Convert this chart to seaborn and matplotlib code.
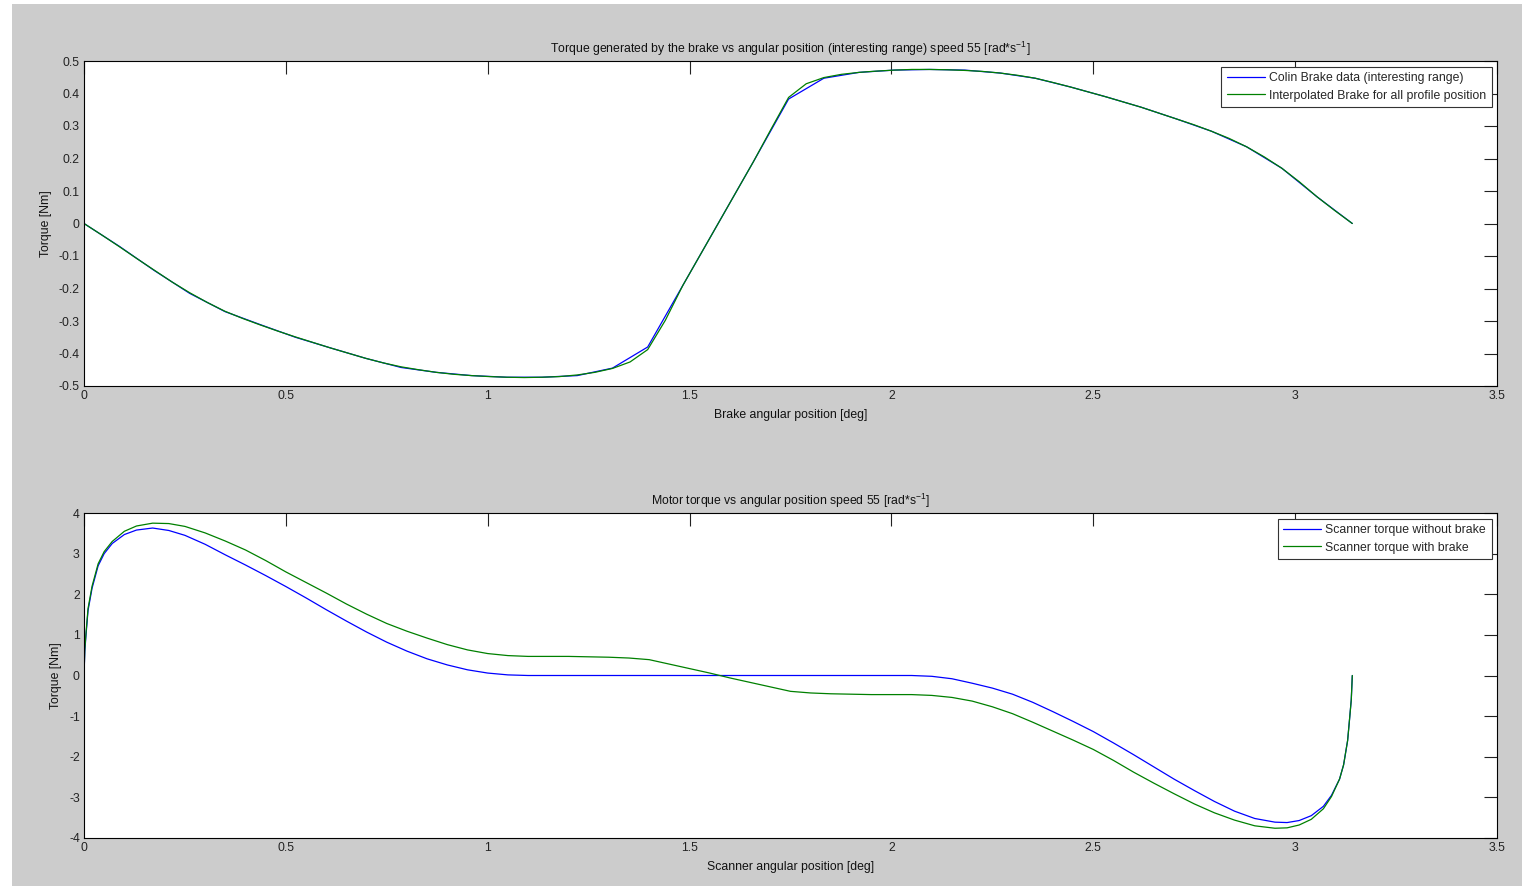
import numpy as np
import matplotlib
matplotlib.use("Agg")
import matplotlib.pyplot as plt
import seaborn as sns
from matplotlib.patches import Rectangle

# ---- data ----
# top panel: brake torque, measured at 5 deg steps (stored in degrees, plotted in rad)
brake_deg = [0, 5, 10, 15, 20, 25, 30, 35, 40, 45, 50, 55, 60, 65, 70, 75, 80, 85, 90,
             95, 100, 105, 110, 115, 120, 125, 130, 135, 140, 145, 150, 155, 160, 165,
             170, 175, 180]
brake_torque = [0.0, -0.070, -0.145, -0.215, -0.271, -0.311, -0.350, -0.383, -0.415,
                -0.443, -0.458, -0.468, -0.473, -0.473, -0.468, -0.445, -0.380, -0.190,
                0.0, 0.190, 0.383, 0.447, 0.465, 0.472, 0.474, 0.472, 0.463, 0.447,
                0.420, 0.390, 0.358, 0.322, 0.284, 0.236, 0.170, 0.082, 0.0]

interp_deg = [0, 2.5, 5, 7.5, 10, 12.5, 15, 17.5, 20, 22.5, 25, 27.5, 30, 32.5, 35, 37.5,
              40, 42.5, 45, 47.5, 50, 52.5, 55, 57.5, 60, 62.5, 65, 67.5, 70, 72.5, 75,
              77.5, 80, 82.5, 85, 87.5, 90, 92.5, 95, 97.5, 100, 102.5, 105, 107.5, 110,
              112.5, 115, 117.5, 120, 122.5, 125, 127.5, 130, 132.5, 135, 137.5, 140,
              142.5, 145, 147.5, 150, 152.5, 155, 157.5, 160, 162.5, 165, 167.5, 170,
              172.5, 175, 177.5, 180]
interp_torque = [0.0, -0.035, -0.071, -0.108, -0.144, -0.180, -0.213, -0.243, -0.270,
                 -0.292, -0.312, -0.331, -0.349, -0.366, -0.383, -0.399, -0.415, -0.429,
                 -0.441, -0.450, -0.458, -0.464, -0.468, -0.471, -0.473, -0.474, -0.473,
                 -0.471, -0.466, -0.458, -0.446, -0.426, -0.388, -0.298, -0.190, -0.095,
                 0.0, 0.095, 0.190, 0.290, 0.388, 0.430, 0.449, 0.459, 0.465, 0.469,
                 0.472, 0.474, 0.474, 0.473, 0.471, 0.468, 0.463, 0.456, 0.447, 0.434,
                 0.420, 0.405, 0.390, 0.374, 0.358, 0.340, 0.322, 0.304, 0.284, 0.262,
                 0.236, 0.205, 0.170, 0.128, 0.082, 0.040, 0.0]

# bottom panel: scanner torque
scan_pos = [0.0, 0.002, 0.005, 0.01, 0.02, 0.035, 0.05, 0.07, 0.1, 0.13, 0.17, 0.21, 0.25,
            0.3, 0.35, 0.4, 0.45, 0.5, 0.55, 0.6, 0.65, 0.7, 0.75, 0.8, 0.85, 0.9, 0.95,
            1.0, 1.05, 1.1, 1.2, 1.3, 1.35, 1.4, 1.45, 1.5, 1.55, 1.6, 1.65, 1.7, 1.75,
            1.8, 1.85, 1.95, 2.05, 2.1, 2.15, 2.2, 2.25, 2.3, 2.35, 2.4, 2.45, 2.5, 2.55,
            2.6, 2.65, 2.7, 2.75, 2.8, 2.85, 2.9, 2.95, 2.98, 3.01, 3.04, 3.07, 3.09,
            3.11, 3.12, 3.13, 3.135, 3.139, 3.1416]
torque_no_brake = [0.0, 0.6, 1.0, 1.6, 2.15, 2.7, 3.0, 3.25, 3.47, 3.58, 3.63, 3.57, 3.45,
                   3.23, 2.97, 2.72, 2.46, 2.19, 1.91, 1.62, 1.34, 1.07, 0.82, 0.60, 0.41,
                   0.26, 0.14, 0.06, 0.015, 0.0, 0.0, 0.0, 0.0, 0.0, 0.0, 0.0, 0.0, 0.0,
                   0.0, 0.0, 0.0, 0.0, 0.0, 0.0, 0.0, -0.02, -0.08, -0.19, -0.31, -0.46,
                   -0.66, -0.89, -1.13, -1.38, -1.66, -1.95, -2.25, -2.55, -2.83, -3.10,
                   -3.34, -3.52, -3.61, -3.62, -3.57, -3.45, -3.22, -2.95, -2.55, -2.2,
                   -1.6, -1.05, -0.6, 0.0]
torque_with_brake = [0.0, 0.65, 1.05, 1.65, 2.2, 2.75, 3.05, 3.3, 3.55, 3.68, 3.75, 3.74,
                     3.67, 3.51, 3.31, 3.09, 2.83, 2.55, 2.29, 2.03, 1.76, 1.51, 1.28, 1.09,
                     0.92, 0.76, 0.63, 0.54, 0.49, 0.47, 0.47, 0.45, 0.43, 0.39, 0.28, 0.17,
                     0.06, -0.06, -0.17, -0.28, -0.39, -0.43, -0.45, -0.47, -0.47, -0.49,
                     -0.54, -0.63, -0.77, -0.94, -1.15, -1.37, -1.59, -1.82, -2.09, -2.38,
                     -2.65, -2.91, -3.16, -3.38, -3.56, -3.70, -3.76, -3.75, -3.68, -3.54,
                     -3.28, -2.98, -2.55, -2.2, -1.6, -1.05, -0.6, 0.0]

x_ticks = [0, 0.5, 1, 1.5, 2, 2.5, 3, 3.5]
x_ticklabels = ["0", "0.5", "1", "1.5", "2", "2.5", "3", "3.5"]
top_yticks = [-0.5, -0.4, -0.3, -0.2, -0.1, 0, 0.1, 0.2, 0.3, 0.4, 0.5]
top_yticklabels = ["-0.5", "-0.4", "-0.3", "-0.2", "-0.1", "0", "0.1", "0.2", "0.3", "0.4", "0.5"]
bot_yticks = [-4, -3, -2, -1, 0, 1, 2, 3, 4]
bot_yticklabels = ["-4", "-3", "-2", "-1", "0", "1", "2", "3", "4"]

# ---- style ----
sns.set_theme(style="white")
plt.rcParams["font.family"] = ["Liberation Sans", "DejaVu Sans"]
plt.rcParams["mathtext.fontset"] = "custom"
plt.rcParams["mathtext.rm"] = "Liberation Sans"
plt.rcParams["mathtext.it"] = "Liberation Sans"
FS = 8.8

fig = plt.figure(figsize=(15.31, 8.86), dpi=100, facecolor="white")
fig.patches.append(Rectangle((12 / 1531, 0), 1510 / 1531, 1 - 4 / 886,
                             transform=fig.transFigure, facecolor="#cccccc",
                             edgecolor="none", zorder=-10))

ax1 = fig.add_axes([84 / 1531, 1 - 386 / 886, 1413 / 1531, 325 / 886])
ax2 = fig.add_axes([84 / 1531, 1 - 838 / 886, 1413 / 1531, 325 / 886])

sns.lineplot(x=np.radians(brake_deg), y=brake_torque, ax=ax1, color=(0, 0, 1), lw=0.9,
             sort=False, estimator=None, label="Colin Brake data (interesting range)")
sns.lineplot(x=np.radians(interp_deg), y=interp_torque, ax=ax1, color=(0, 0.5, 0), lw=0.9,
             sort=False, estimator=None, label="Interpolated Brake for all profile position")

sns.lineplot(x=scan_pos, y=torque_no_brake, ax=ax2, color=(0, 0, 1), lw=0.9,
             sort=False, estimator=None, label="Scanner torque without brake")
sns.lineplot(x=scan_pos, y=torque_with_brake, ax=ax2, color=(0, 0.5, 0), lw=0.9,
             sort=False, estimator=None, label="Scanner torque with brake")

panels = [
    (ax1, top_yticks, top_yticklabels, (-0.5, 0.5),
     "Torque generated by the brake vs angular position (interesting range) speed 55 [rad*s$^{-1}$]",
     "Brake angular position [deg]"),
    (ax2, bot_yticks, bot_yticklabels, (-4, 4),
     "Motor torque vs angular position speed 55 [rad*s$^{-1}$]",
     "Scanner angular position [deg]"),
]
for ax, yt, ytl, ylim, title, xlabel in panels:
    ax.set_facecolor("white")
    ax.set_xlim(0, 3.5)
    ax.set_ylim(*ylim)
    ax.set_xticks(x_ticks)
    ax.set_xticklabels(x_ticklabels)
    ax.set_yticks(yt)
    ax.set_yticklabels(ytl)
    ax.tick_params(direction="in", length=9.5, width=0.8, colors="#222222",
                   labelsize=FS, top=True, right=True, pad=3)
    for s in ax.spines.values():
        s.set_visible(True)
        s.set_color("black")
        s.set_linewidth(0.8)
    ax.set_title(title, fontsize=FS, color="#111111", pad=6)
    ax.set_xlabel(xlabel, fontsize=FS, color="#111111", labelpad=4.8)
    ax.set_ylabel("Torque [Nm]", fontsize=FS, color="#111111", labelpad=5)
    leg = ax.legend(loc="upper right", fontsize=FS, handlelength=3.1, handletextpad=0.35,
                    borderpad=0.45, labelspacing=0.45, borderaxespad=0.45, fancybox=False,
                    framealpha=1, edgecolor="#333333")
    leg.get_frame().set_linewidth(0.8)

fig.savefig("out.png", dpi=100, facecolor=fig.get_facecolor())
